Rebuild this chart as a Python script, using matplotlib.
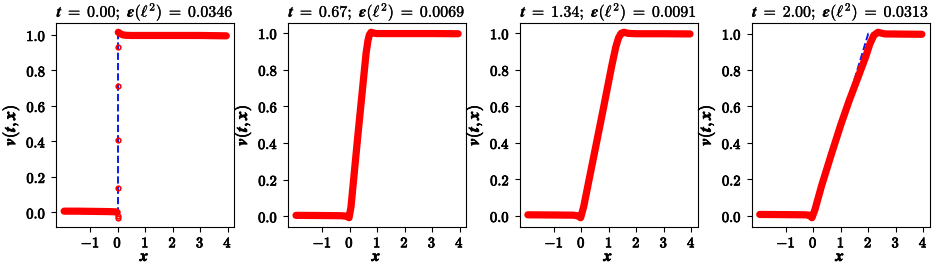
import matplotlib
matplotlib.use("Agg")
import matplotlib.pyplot as plt
import matplotlib.patheffects as pe
from matplotlib.ticker import FuncFormatter, FixedLocator

plt.rcParams['mathtext.fontset'] = 'cm'

# ---- data ----
times = ["0.00", "0.67", "1.34", "2.00"]
errors = ["0.0346", "0.0069", "0.0091", "0.0313"]

# exact solution (rarefaction) key points
exact_x = [
    [-1.95, 0.0, 0.0, 3.95],
    [-1.95, 0.0, 0.67, 3.95],
    [-1.95, 0.0, 1.34, 3.95],
    [-1.95, 0.0, 2.00, 3.95],
]
exact_y = [
    [0.0, 0.0, 1.0, 1.0],
    [0.0, 0.0, 1.0, 1.0],
    [0.0, 0.0, 1.0, 1.0],
    [0.0, 0.0, 1.0, 1.0],
]

# predictions (red)
pred0_left_x = [-1.95, -1.5, -1.0, -0.5, -0.2, -0.06, -0.02]
pred0_left_y = [0.007, 0.007, 0.006, 0.005, 0.004, 0.003, 0.0]
pred0_jump_x = [0.0, 0.0, 0.0, 0.0, 0.0, 0.0]
pred0_jump_y = [-0.03, -0.02, 0.14, 0.41, 0.71, 0.93]
pred0_right_x = [0.02, 0.05, 0.1, 0.2, 0.3, 0.5, 1.0, 2.0, 3.0, 3.95]
pred0_right_y = [1.015, 1.012, 1.006, 1.0, 0.998, 0.997, 0.997, 0.997, 0.997, 0.995]

pred1_x = [-1.95, -1.0, -0.3, -0.1, -0.02, 0.05, 0.3, 0.6, 0.67, 0.72, 0.78, 0.9, 1.0, 2.0, 3.0, 3.95]
pred1_y = [0.005, 0.004, 0.003, 0.0, -0.008, 0.05, 0.44, 0.89, 0.96, 0.99, 1.004, 0.999, 0.997, 0.997, 0.997, 0.996]

pred2_x = [-1.95, -1.0, -0.3, -0.12, -0.03, 0.08, 0.4, 0.8, 1.1, 1.25, 1.35, 1.45, 1.55, 1.7, 2.0, 3.0, 3.95]
pred2_y = [0.006, 0.005, 0.004, 0.0, -0.01, 0.05, 0.29, 0.59, 0.82, 0.925, 0.975, 1.0, 1.005, 0.999, 0.997, 0.997, 0.996]

pred3_x = [-1.95, -1.0, -0.3, -0.15, -0.05, 0.06, 0.3, 0.65, 1.0, 1.3, 1.5, 1.65, 1.9, 2.05, 2.2, 2.35, 2.6, 3.2, 3.95]
pred3_y = [0.008, 0.007, 0.006, 0.004, -0.01, 0.035, 0.165, 0.335, 0.50, 0.63, 0.71, 0.77, 0.87, 0.94, 0.99, 1.007, 0.998, 0.997, 0.996]

pred_x = [None, pred1_x, pred2_x, pred3_x]
pred_y = [None, pred1_y, pred2_y, pred3_y]

xticks = [-1, 0, 1, 2, 3, 4]
yticks = [0.0, 0.2, 0.4, 0.6, 0.8, 1.0]

# ---- figure ----
fig, axes = plt.subplots(1, 4, figsize=(9.34, 2.66), dpi=100)
fig.subplots_adjust(left=0.060, right=0.9957, bottom=0.1466, top=0.9135, wspace=0.30)

red_kw = dict(color='red', lw=5.2, solid_capstyle='round', solid_joinstyle='round', zorder=3)
bold_fx = [pe.withStroke(linewidth=0.55, foreground='black')]

for i, ax in enumerate(axes):
    ax.plot(exact_x[i], exact_y[i], '--', color='#0a1af0', lw=1.4, zorder=2)
    if i == 0:
        ax.plot(pred0_left_x, pred0_left_y, **red_kw)
        ax.plot(pred0_right_x, pred0_right_y, **red_kw)
        ax.plot(pred0_jump_x, pred0_jump_y, 'o', mfc='none', mec='red',
                ms=3.3, mew=1.2, zorder=4)
    else:
        ax.plot(pred_x[i], pred_y[i], **red_kw)

    ax.xaxis.set_major_locator(FixedLocator(xticks))
    ax.yaxis.set_major_locator(FixedLocator(yticks))
    ax.xaxis.set_major_formatter(FuncFormatter(lambda v, p: r'$\mathbf{%d}$' % int(round(v))))
    ax.yaxis.set_major_formatter(FuncFormatter(lambda v, p: r'$\mathbf{%.1f}$' % v))
    ax.tick_params(labelsize=10.5)
    ax.tick_params(axis='x', pad=2.5)
    for lab in ax.get_xticklabels() + ax.get_yticklabels():
        lab.set_path_effects(bold_fx)
    xl = ax.set_xlabel(r'$\boldsymbol{x}$', fontsize=11.5, labelpad=-1)
    yl = ax.set_ylabel(r'$\boldsymbol{v(t,x)}$', fontsize=12, labelpad=3)
    xl.set_path_effects(bold_fx)
    yl.set_path_effects(bold_fx)
    title = (r'$\boldsymbol{t}\;=\;\mathbf{' + times[i] + r'};\ \boldsymbol{\epsilon}\mathbf{(}'
             r'\boldsymbol{\ell}^{\mathbf{2}}\mathbf{)}\;=\;' + errors[i] + r'$')
    ti = ax.set_title(title, fontsize=11.5, pad=2.5)
    ti.set_path_effects([pe.withStroke(linewidth=0.2, foreground='black')])

fig.savefig('out.png', dpi=100)
